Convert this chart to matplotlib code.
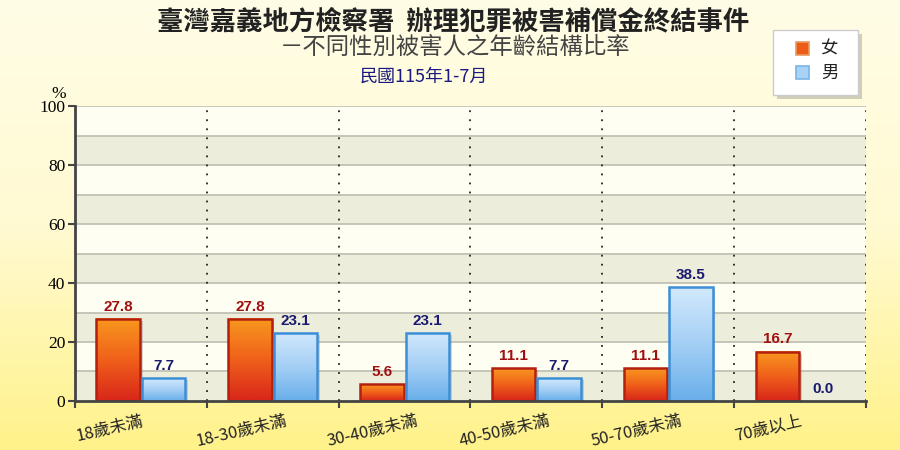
import numpy as np
import matplotlib
matplotlib.use("Agg")
import matplotlib.pyplot as plt
from matplotlib.patches import Rectangle, FancyBboxPatch
from matplotlib.colors import LinearSegmentedColormap

plt.rcParams['font.family'] = ['Noto Sans CJK TC', 'DejaVu Sans']

categories = ['18歲未滿', '18-30歲未滿', '30-40歲未滿', '40-50歲未滿', '50-70歲未滿', '70歲以上']
female = [27.8, 27.8, 5.6, 11.1, 11.1, 16.7]
male = [7.7, 23.1, 23.1, 7.7, 38.5, 0.0]
series_names = ['女', '男']
title = '臺灣嘉義地方檢察署  辦理犯罪被害補償金終結事件'
subtitle = '－不同性別被害人之年齡結構比率'
period = '民國115年1-7月'
yticks = [0, 20, 40, 60, 80, 100]

fig = plt.figure(figsize=(9, 4.5), dpi=100)

# background gradient
bg = fig.add_axes([0, 0, 1, 1], zorder=-10)
bg_cmap = LinearSegmentedColormap.from_list('bg', ['#FFF28A', '#FFFAD2', '#FFFDE6'])
grad = np.linspace(0, 1, 256).reshape(-1, 1)
bg.imshow(grad, cmap=bg_cmap, aspect='auto', extent=[0, 1, 0, 1], origin='lower')
bg.set_axis_off()

ax = fig.add_axes([0.0833, 0.1089, 0.8789, 0.6555])
ax.set_xlim(0, len(categories))
ax.set_ylim(0, 100)

# bands
for i in range(10):
    col = '#EDEDDC' if i % 2 == 0 else '#FFFEF2'
    ax.axhspan(i * 10, (i + 1) * 10, color=col, zorder=0, lw=0)
for v in range(10, 101, 10):
    ax.axhline(v, color='#BDBDB0', lw=1.2, zorder=1)
for i in range(1, len(categories) + 1):
    ax.axvline(i, color='#222222', lw=1.3, ls=(0, (1, 4)), zorder=1)

f_cmap = LinearSegmentedColormap.from_list('f', ['#D8261A', '#F0601A', '#F8981E'])
m_cmap = LinearSegmentedColormap.from_list('m', ['#68AEEA', '#A4CFF5', '#D2E9FC'])
bw = 0.33
gap = 0.015
x = np.arange(len(categories))
for vals, off, cmap, ec, tc in [(female, -bw - gap / 2 + 0.5, f_cmap, '#B3200F', '#A01010'),
                                  (male, gap / 2 + 0.5, m_cmap, '#3C8ED6', '#1A1A70')]:
    for xi, v in zip(x, vals):
        x0 = xi + off
        if v > 0:
            sh = Rectangle((x0 + 0.02, 0), bw, v - 0.6, facecolor='#8A8A80', alpha=0.35, lw=0, zorder=2)
            ax.add_patch(sh)
            ax.imshow(grad, cmap=cmap, aspect='auto', extent=[x0, x0 + bw, 0, v],
                      origin='lower', zorder=3)
            ax.add_patch(Rectangle((x0, 0), bw, v, facecolor='none', edgecolor=ec, lw=1.8, zorder=4))
        ax.text(x0 + bw / 2, v + 1.8, f'{v:.1f}', ha='center', va='bottom', color=tc,
                fontsize=11, fontweight='bold', family='Liberation Sans', zorder=5)

ax.set_xlim(0, len(categories))
ax.set_ylim(0, 100)

for s in ['top', 'right']:
    ax.spines[s].set_visible(False)
for s in ['left', 'bottom']:
    ax.spines[s].set_color('#444444')
    ax.spines[s].set_linewidth(2)
    ax.spines[s].set_zorder(6)

ax.set_yticks(yticks)
ax.set_yticklabels([str(t) for t in yticks], family='Liberation Serif', fontsize=12.5)
ax.tick_params(axis='y', length=5, width=1.5, color='#444444', pad=2)
ax.set_xticks(np.arange(len(categories) + 1))
ax.set_xticklabels([''] * (len(categories) + 1))
ax.tick_params(axis='x', length=5, width=1.5, color='#444444')
for xi, c in zip(x, categories):
    ax.text(xi + 0.26, -4, c, rotation=13, ha='center', va='top', fontsize=12,
            color='#222222', transform=ax.transData, clip_on=False)

ax.text(-0.12, 101.5, '%', ha='center', va='bottom', fontsize=12.5, family='Liberation Serif',
        transform=ax.transData, clip_on=False)

fig.text(0.504, 1 - 22 / 450, title, ha='center', va='center', fontsize=19, fontweight='bold', color='#222222')
fig.text(0.506, 1 - 47 / 450, subtitle, ha='center', va='center', fontsize=16.8, color='#444444')
fig.text(424 / 900, 1 - 77 / 450, period, ha='center', va='center', fontsize=13, color='#1A1A80')

# legend box
lx0, ly0, lw_, lh_ = 773 / 900, 1 - 95 / 450, 85 / 900, 65 / 450
shadow = FancyBboxPatch((lx0 + 0.004, ly0 - 0.008), lw_, lh_, boxstyle='square,pad=0',
                        transform=fig.transFigure, facecolor='#B0B0A0', alpha=0.6, lw=0, zorder=8)
fig.patches.append(shadow)
box = FancyBboxPatch((lx0, ly0), lw_, lh_, boxstyle='square,pad=0', transform=fig.transFigure,
                     facecolor='white', edgecolor='#CCCCCC', lw=1, zorder=9)
fig.patches.append(box)
for j, (name, c, ec) in enumerate(zip(series_names, ['#EE5A18', '#A8D2F6'], ['#E89A60', '#7AB4E6'])):
    yy = 1 - (49 + j * 24) / 450
    fig.patches.append(Rectangle((796 / 900, yy - 6 / 450), 13 / 900, 13 / 450, transform=fig.transFigure,
                                 facecolor=c, edgecolor=ec, lw=1.2, zorder=10))
    fig.text(830 / 900, yy, name, ha='center', va='center', fontsize=12.5, color='#222222', zorder=11)

fig.savefig('out.png', dpi=100)
